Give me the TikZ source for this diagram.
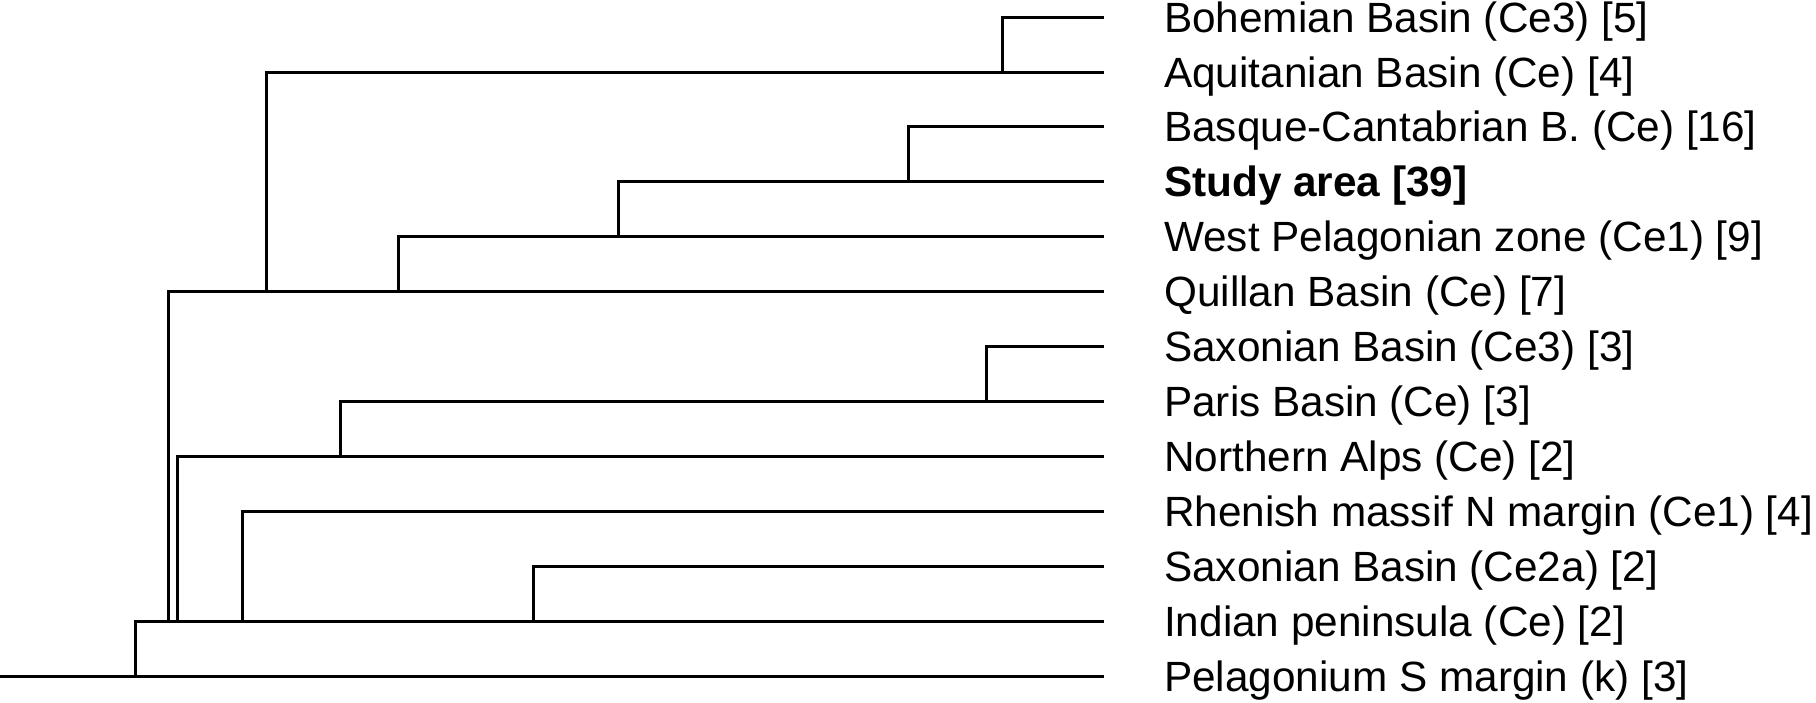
\documentclass[tikz,border=0pt]{standalone}
\usepackage{fontspec}
\setmainfont{Liberation Sans}
\begin{document}
\begin{tikzpicture}[x=1pt,y=-1pt,
  br/.style={line width=3pt, line join=miter},
  lab/.style={anchor=base west, inner sep=0pt, font=\fontsize{42.3}{50}\selectfont}]
\useasboundingbox (0,0) rectangle (1816,703);
% leaf ends
\coordinate (e0) at (1104,17.2);
\coordinate (e1) at (1104,72.1);
\coordinate (e2) at (1104,127.0);
\coordinate (e3) at (1104,181.9);
\coordinate (e4) at (1104,236.8);
\coordinate (e5) at (1104,291.7);
\coordinate (e6) at (1104,346.6);
\coordinate (e7) at (1104,401.5);
\coordinate (e8) at (1104,456.4);
\coordinate (e9) at (1104,511.3);
\coordinate (e10) at (1104,566.2);
\coordinate (e11) at (1104,621.1);
\coordinate (e12) at (1104,676.0);
% internal joins
\coordinate (a1) at (1002,72.1);
\coordinate (a2) at (266,291.7);
\coordinate (a3) at (908,181.9);
\coordinate (a4) at (618,236.8);
\coordinate (a5) at (398,291.7);
\coordinate (a6) at (168,621.1);
\coordinate (a7) at (986,401.5);
\coordinate (a8) at (340,456.4);
\coordinate (a9) at (177,621.1);
\coordinate (a10) at (242,621.1);
\coordinate (a11) at (533,621.1);
\coordinate (a12) at (135,676.0);
\coordinate (a13) at (0,676.0);
% branches
\draw[br] (e0) -| (a1);
\draw[br] (e1) -| (a2);
\draw[br] (e2) -| (a3);
\draw[br] (e3) -| (a4);
\draw[br] (e4) -| (a5);
\draw[br] (e5) -| (a6);
\draw[br] (e6) -| (a7);
\draw[br] (e7) -| (a8);
\draw[br] (e8) -| (a9);
\draw[br] (e9) -| (a10);
\draw[br] (e10) -| (a11);
\draw[br] (e11) -| (a12);
\draw[br] (e12) -- (a13);
% labels
\node[lab] (t0) at (1164,32.2) {Bohemian Basin (Ce3) [5]};
\node[lab] (t1) at (1164,87.1) {Aquitanian Basin (Ce) [4]};
\node[lab] (t2) at (1164,142.0) {Basque-Cantabrian B. (Ce) [16]};
\node[lab] (t3) at (1164,196.9) {\bfseries Study area [39]};
\node[lab] (t4) at (1164,251.8) {West Pelagonian zone (Ce1) [9]};
\node[lab] (t5) at (1164,306.7) {Quillan Basin (Ce) [7]};
\node[lab] (t6) at (1164,361.6) {Saxonian Basin (Ce3) [3]};
\node[lab] (t7) at (1164,416.5) {Paris Basin (Ce) [3]};
\node[lab] (t8) at (1164,471.4) {Northern Alps (Ce) [2]};
\node[lab] (t9) at (1164,526.3) {Rhenish massif N margin (Ce1) [4]};
\node[lab] (t10) at (1164,581.2) {Saxonian Basin (Ce2a) [2]};
\node[lab] (t11) at (1164,636.1) {Indian peninsula (Ce) [2]};
\node[lab] (t12) at (1164,691.0) {Pelagonium S margin (k) [3]};
\end{tikzpicture}
\end{document}
